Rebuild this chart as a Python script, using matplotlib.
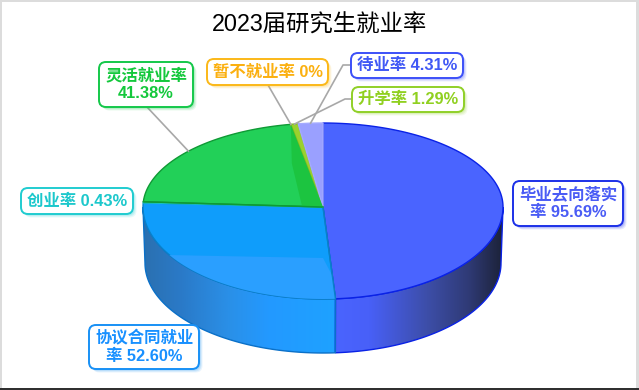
import numpy as np
import matplotlib
matplotlib.use('Agg')
import matplotlib.pyplot as plt
from matplotlib.colors import LinearSegmentedColormap
from matplotlib.patches import FancyBboxPatch, Polygon, Rectangle

plt.rcParams['font.family'] = ['Liberation Sans', 'Noto Sans CJK SC']

title = '2023届研究生就业率'

# dados das fatias, sentido horário a partir do topo
values = [95.69, 52.60, 0.43, 41.38, 0, 1.29, 4.31]
labels = ['毕业去向落实\n率 95.69%', '协议合同就业\n率 52.60%', '创业率 0.43%', '灵活就业率\n41.38%',
          '暂不就业率 0%', '升学率 1.29%', '待业率 4.31%']
top_colors = ['#4a64ff', '#0f9dfb', '#18cfd0', '#22d058', '#f0a800', '#9bd12e', '#9aa0ff']
edge_colors = ['#0a22e6', '#0a80c8', '#18c0c0', '#0f9a35', '#d89000', '#84bc20', '#a4aaff']
text_colors = ['#4a5cf5', '#1890ff', '#1cc8cc', '#14c83c', '#fbb010', '#90d020', '#4058f5']
border_colors = ['#1c30e8', '#1890f5', '#20ccd0', '#14c84a', '#fbb818', '#90d028', '#3c50f8']

# caixas dos rótulos em pixels: x0, y0, x1, y1
boxes = [(513, 181, 623, 226), (89, 325, 199, 369), (21, 188, 133, 214), (99, 62, 193, 107),
         (207, 59, 328, 85), (352, 87, 464, 112), (351, 53, 463, 78)]
# de onde sai a linha guia em cada caixa (None = sem linha)
leader_knees = [None, None, None, [(147, 107)], [(268, 85)], [(352, 99), (345, 99)], [(351, 65), (343, 65)]]

# geometria do pie "3D"
cx, cy = 323, 207
rx, ry_top, ry_bottom = 180, 84, 92
bx, by, bry = 178, 263, 90


def rim(deg, center_y=cy, radius_x=rx, top=ry_top, bottom=ry_bottom):
    a = np.radians(deg)
    s, c = np.sin(a), np.cos(a)
    yr = np.where(c > 0, top, bottom)
    return cx + radius_x * s, center_y - yr * c


def wedge_points(start, end):
    n = max(int(abs(end - start)) * 2, 2)
    x, y = rim(np.linspace(start, end, n))
    return np.column_stack([np.r_[cx, x], np.r_[cy, y]])


def wall_points(start, end):
    ang = np.linspace(start, end, 200)
    x1, y1 = rim(ang)
    x2, y2 = rim(ang[::-1], by, bx, bry, bry)
    return np.column_stack([np.r_[x1, x2], np.r_[y1, y2]])


fig = plt.figure(figsize=(6.39, 3.90), dpi=100, facecolor='#dcdcdc')
ax = fig.add_axes([0, 0, 1, 1])
ax.axis('off')

# moldura da imagem
ax.add_patch(Rectangle((2, 2), 634, 385.5, facecolor='white', edgecolor='none', zorder=0))
ax.add_patch(Rectangle((0, 388), 639, 2, facecolor='#303030', edgecolor='none', zorder=0))

ends = np.cumsum(values) / np.sum(values) * 360
starts = np.r_[0, ends[:-1]]
mids = (starts + ends) / 2

# paredes laterais com gradiente
right_cmap = LinearSegmentedColormap.from_list(
    'direita', [(0, '#4a64ff'), (0.2, '#4860f8'), (0.55, '#3d4ea8'), (0.8, '#2f3a75'), (1, '#1c2238')])
left_cmap = LinearSegmentedColormap.from_list(
    'esquerda', [(0, '#2b70b0'), (0.2, '#2a7ac8'), (0.45, '#2a90e8'), (0.65, '#2399ff'), (1, '#1ea2ff')])
walls = [(90, ends[0], right_cmap, '#0a22e6', False), (ends[0], 270, left_cmap, '#0a70c8', False)]
for a0, a1, cmap, edge, flip in walls:
    pts = wall_points(a0, a1)
    ax.add_patch(Polygon(pts, closed=True, facecolor='none', edgecolor=edge, lw=1, zorder=2))
    x0, x1 = pts[:, 0].min(), pts[:, 0].max()
    y0, y1 = pts[:, 1].min(), pts[:, 1].max()
    grad = np.linspace(0, 1, 256).reshape(1, -1)
    im = ax.imshow(grad, extent=(x0, x1, y1, y0), cmap=cmap, aspect='auto', zorder=1.5)
    im.set_clip_path(Polygon(pts, closed=True, transform=ax.transData))

# face superior
for start, end, face, edge in zip(starts, ends, top_colors, edge_colors):
    ax.add_patch(Polygon(wedge_points(start, end), closed=True, facecolor=face, edgecolor=edge,
                         lw=1, joinstyle='round', zorder=3))

# faixa mais clara na fatia azul (parede vista por transparência)
blue_top = wedge_points(starts[1], ends[1])
band = Polygon([(140, 254.5), (cx, 258), (345, 300), (140, 320)], closed=True, facecolor='#2a9fff',
               edgecolor='none', zorder=3.1)
ax.add_patch(band)
band.set_clip_path(Polygon(blue_top, closed=True, transform=ax.transData))
ax.plot(*np.array([rim(starts[1]), (cx, cy)]).T, color=edge_colors[1], lw=1, zorder=3.3)

# parede interna escura na fatia verde
gx, gy = rim(ends[3])
ax.add_patch(Polygon([(gx, gy), (gx + 1, gy + 39), (cx - 21, cy - 1), (cx, cy)], closed=True,
                     facecolor='#1cc440', edgecolor='none', zorder=3.1))
ax.plot(*np.array([rim(starts[3]), (cx, cy)]).T, color=edge_colors[3], lw=1, zorder=3.3)

# linhas guia
for mid, knees in zip(mids, leader_knees):
    if knees is None:
        continue
    px, py = zip(*(knees + [tuple(rim(mid))]))
    ax.plot(px, py, color='#a8a8a8', lw=1.2, zorder=4, solid_joinstyle='round')

# rótulos
for text, box, tc, bc in zip(labels, boxes, text_colors, border_colors):
    x0, y0, x1, y1 = box
    for off, alpha in [(3.5, 0.10), (2.5, 0.14), (1.5, 0.18)]:
        ax.add_patch(FancyBboxPatch((x0 + off, y0 + off), x1 - x0, y1 - y0,
                                    boxstyle='round,pad=0,rounding_size=7', facecolor=bc,
                                    edgecolor='none', alpha=alpha, zorder=5))
    ax.add_patch(FancyBboxPatch((x0, y0), x1 - x0, y1 - y0, boxstyle='round,pad=0,rounding_size=7',
                                facecolor='white', edgecolor=bc, lw=1.4, zorder=6))
    ax.text((x0 + x1) / 2, (y0 + y1) / 2, text, color=tc, fontsize=11.8, fontweight='bold',
            ha='center', va='center', linespacing=1.2, zorder=7)

ax.text(320, 25, title, color='black', fontsize=16.8, ha='center', va='center', zorder=7)

ax.set_xlim(0, 639)
ax.set_ylim(390, 0)
fig.savefig('out.png', dpi=100, facecolor=fig.get_facecolor())
